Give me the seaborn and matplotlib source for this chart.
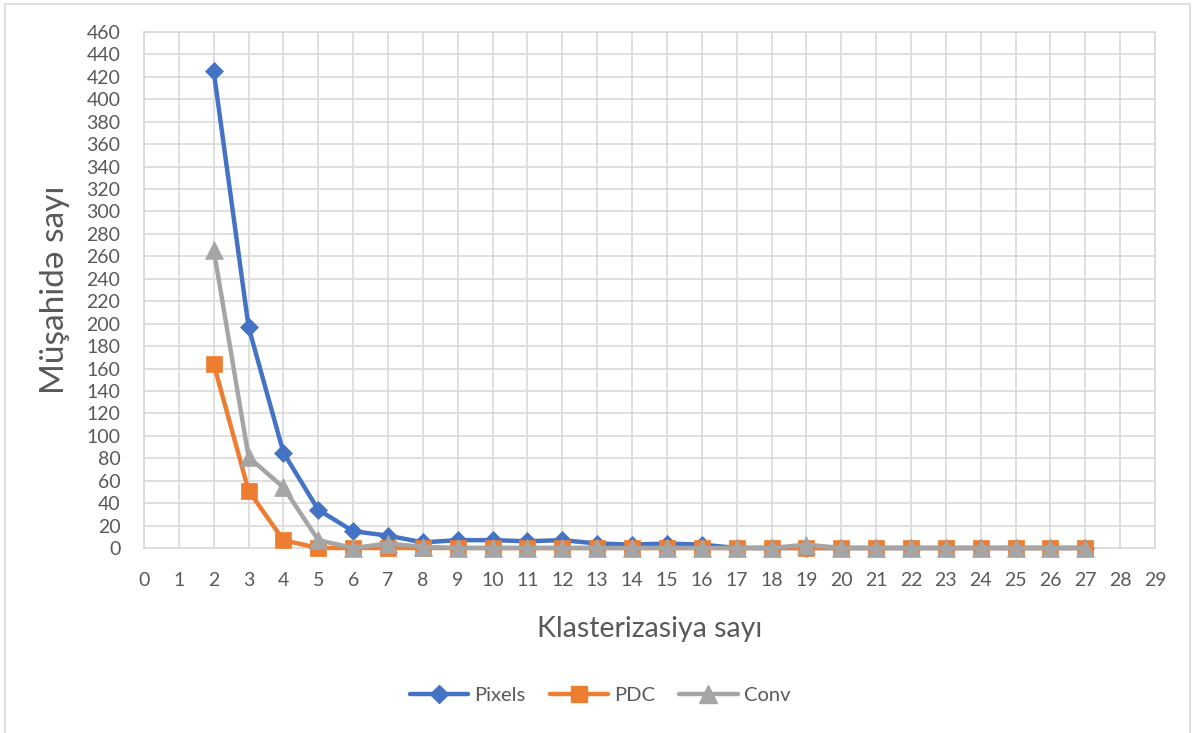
import matplotlib
matplotlib.use("Agg")
import matplotlib.pyplot as plt
from matplotlib.patches import Rectangle
from matplotlib.lines import Line2D
import numpy as np
import pandas as pd
import seaborn as sns

# Number of clusters and observation counts per feature type
clusters = list(range(2, 28))
pixels = [425, 197, 85, 34, 15, 11, 5, 7, 7, 6, 7, 4, 3, 4, 3, 0, 0, 0, 0, 0, 0, 0, 0, 0, 0, 0]
pdc = [164, 51, 7, 0, 0, 0, 0, 0, 0, 0, 0, 0, 0, 0, 0, 0, 0, 0, 0, 0, 0, 0, 0, 0, 0, 0]
conv = [266, 81, 54, 7, 0, 4, 1, 0, 0, 0, 0, 0, 0, 0, 0, 0, 0, 3, 0, 0, 0, 0, 0, 0, 0, 0]

series_names = ["Pixels", "PDC", "Conv"]
x_ticks = list(range(0, 30))
y_ticks = list(range(0, 461, 20))

colors = {"Pixels": "#4472C4", "PDC": "#ED7D31", "Conv": "#A5A5A5"}
markers = {"Pixels": "D", "PDC": "s", "Conv": "^"}
msizes = {"Pixels": 9.5, "PDC": 11.5, "Conv": 13}

df = pd.DataFrame({
    "x": clusters * 3,
    "y": pixels + pdc + conv,
    "series": ["Pixels"] * len(clusters) + ["PDC"] * len(clusters) + ["Conv"] * len(clusters),
})

sns.set_theme(style="whitegrid")
plt.rcParams["font.family"] = ["Lato", "DejaVu Sans"]

fig = plt.figure(figsize=(12, 7.33), dpi=100)
ax = fig.add_axes([144 / 1200, 1 - 548 / 733, (1155 - 144) / 1200, (548 - 32) / 733])

for name in series_names:
    sub = df[df["series"] == name]
    sns.lineplot(data=sub, x="x", y="y", ax=ax, color=colors[name],
                 marker=markers[name], markersize=msizes[name],
                 markeredgecolor=colors[name], markeredgewidth=0.5,
                 linewidth=3.2, legend=False, clip_on=False)

ax.set_xlim(0, 29)
ax.set_ylim(0, 460)
ax.set_xticks(x_ticks)
ax.set_yticks(y_ticks)
ax.grid(True, color="#D9D9D9", linewidth=1.2)
ax.set_axisbelow(True)
for s in ax.spines.values():
    s.set_color("#D9D9D9")
    s.set_linewidth(1.2)
    s.set_zorder(0.5)
ax.tick_params(axis="both", length=0, labelsize=14, labelcolor="#595959")
ax.tick_params(axis="x", pad=17)
ax.tick_params(axis="y", pad=17)

ax.set_xlabel("Klasterizasiya sayı", fontsize=20.5, color="#595959", labelpad=20)
ax.set_ylabel("Müşahidə sayı", fontsize=24, color="#595959", labelpad=12)

handles = [Line2D([0], [0], color=colors[n], marker=markers[n], markersize=msizes[n] * 0.95,
                  markeredgecolor=colors[n], linewidth=3.2) for n in series_names]
fig.legend(handles, series_names, loc="center", bbox_to_anchor=(0.5, 1 - 695 / 733),
           ncol=3, frameon=False, fontsize=14.5, handlelength=2.9, columnspacing=1.2,
           handletextpad=0.3, labelcolor="#595959")

fig.patches.append(Rectangle((5 / 1200, -0.02), 1185 / 1200, 1.02 - 3.5 / 733,
                             transform=fig.transFigure, fill=False,
                             edgecolor="#D9D9D9", linewidth=1.2))

fig.savefig("out.png", dpi=100, facecolor="white")
